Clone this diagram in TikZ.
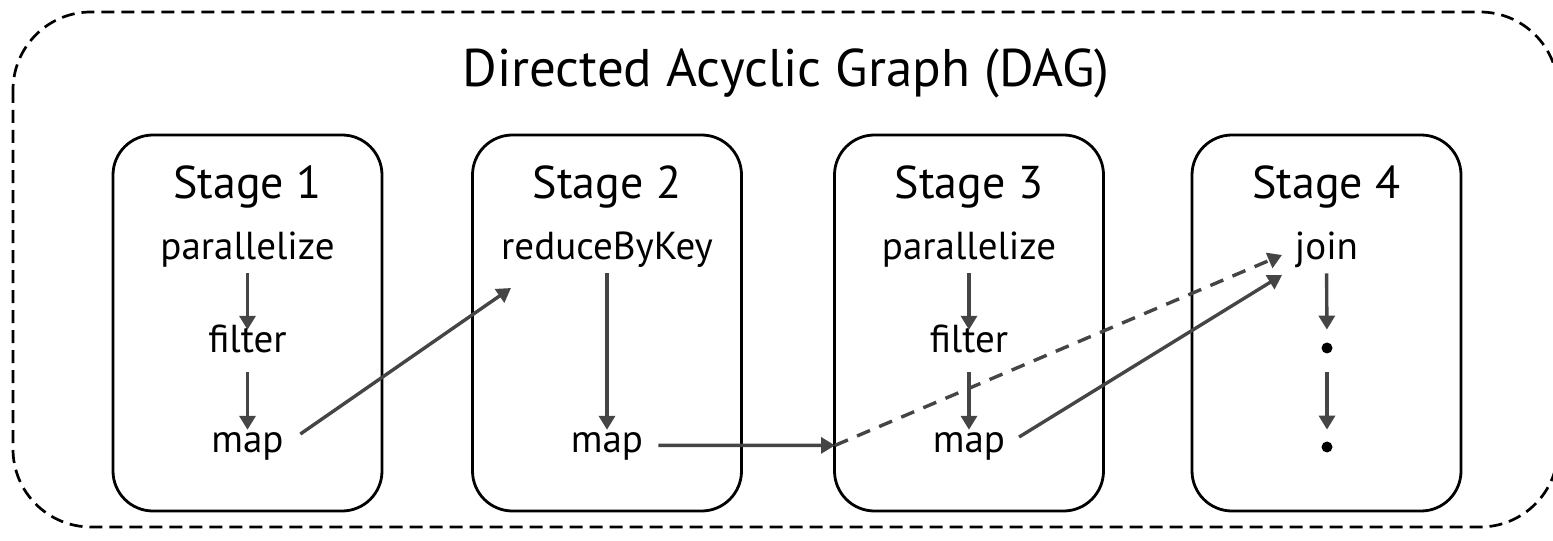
\documentclass[tikz,border=0pt]{standalone}
\usepackage{fontspec}
\setmainfont{PT Sans}
\usetikzlibrary{arrows.meta}
\definecolor{edgecol}{rgb}{0.27,0.27,0.27}

\begin{document}
\begin{tikzpicture}[>={Triangle[length=7bp,width=8bp]},line join=bevel,x=0.5bp,y=-0.5bp,
  dagbox/.style={draw=black,line width=1.35bp,dash pattern=on 6.5bp off 3.5bp,rounded corners=39bp},
  stagebox/.style={draw=black,line width=1.4bp,rounded corners=20bp,
    minimum width=134.5bp,minimum height=188bp,inner sep=0pt},
  stagelabel/.style={anchor=base,inner sep=0pt,font=\fontsize{23bp}{23bp}\selectfont},
  op/.style={anchor=base,inner sep=0pt,text height=11.4bp,text depth=3.8bp,
    font=\fontsize{19.5bp}{19.5bp}\selectfont},
  bullet/.style={circle,fill=black,inner sep=0pt,minimum size=5.5bp},
  flow/.style={->,draw=edgecol,line width=1.7bp}]
\useasboundingbox (0,0) rectangle (1553,541);
\clip (0,0) rectangle (1553,541);
%%
  % Node: dag (frame runs off the right edge)
  \draw[dagbox] (13,12) rectangle (1558,527);
  \node[anchor=base,inner sep=0pt,font=\fontsize{26.5bp}{26.5bp}\selectfont] (title) at (786,87) {Directed Acyclic Graph (DAG)};
  % Node: stage1
  \node[stagebox] (stage1) at (247.5,323) {};
  \node[stagelabel] (label1) at (247.5,199) {Stage 1};
  \node[op] (par1) at (247.5,260) {parallelize};
  \node[op] (filter1) at (247.5,353) {filter};
  \node[op] (map1) at (247.5,453) {map};
  % Node: stage2
  \node[stagebox] (stage2) at (607,323) {};
  \node[stagelabel] (label2) at (607,199) {Stage 2};
  \node[op] (reduce2) at (607,260) {reduceByKey};
  \node[op] (map2) at (607,453) {map};
  % Node: stage3
  \node[stagebox] (stage3) at (969,323) {};
  \node[stagelabel] (label3) at (969,199) {Stage 3};
  \node[op] (par3) at (969,260) {parallelize};
  \node[op] (filter3) at (969,353) {filter};
  \node[op] (map3) at (969,453) {map};
  % Node: stage4
  \node[stagebox] (stage4) at (1326.5,323) {};
  \node[stagelabel] (label4) at (1326.5,199) {Stage 4};
  \node[op] (join4) at (1326.5,260) {join};
  \node[bullet] (dot1) at (1327,348) {};
  \node[bullet] (dot2) at (1327,447) {};
  % free ends of the shuffles
  \coordinate (in2) at (511,288);
  \coordinate (junc) at (835,445.4);
  \coordinate (in4a) at (1282,255);
  \coordinate (in4b) at (1282,275);
%%
  % Edge: par1 -> filter1 -> map1
  \draw[flow,shorten <=2.7bp] (par1) -- (filter1);
  \draw[flow,shorten <=5.7bp] (filter1) -- (map1);
  % Edge: reduce2 -> map2
  \draw[flow,shorten <=2.7bp] (reduce2) -- (map2);
  % Edge: par3 -> filter3 -> map3
  \draw[flow,shorten <=2.7bp] (par3) -- (filter3);
  \draw[flow,shorten <=5.7bp] (filter3) -- (map3);
  % Edge: join4 -> dot1 -> dot2
  \draw[flow,shorten <=2.7bp,shorten >=6.25bp] (join4) -- (dot1);
  \draw[flow,shorten <=9.25bp,shorten >=5.75bp] (dot1) -- (dot2);
  % Edge: map1 -> reduce2
  \draw[flow,shorten <=10bp] (map1.east) -- (in2);
  % Edge: map2 -> join4 (through stage 3)
  \draw[flow,shorten <=7.5bp] (map2.east) -- (junc);
  \draw[flow,dash pattern=on 7bp off 5bp] (junc) -- (in4a);
  % Edge: map3 -> join4
  \draw[flow,shorten <=8bp] (map3.east) -- (in4b);
%
\end{tikzpicture}
\end{document}
